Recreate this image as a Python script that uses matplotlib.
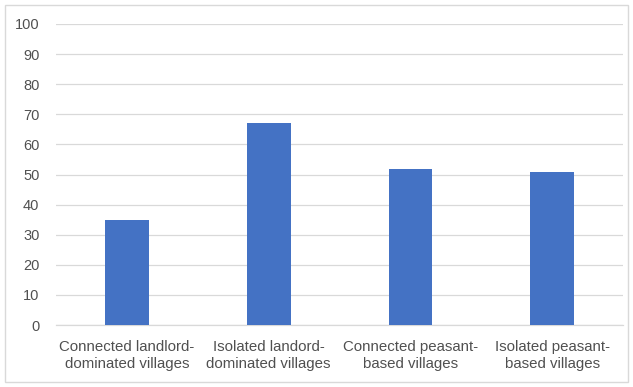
import matplotlib
matplotlib.use('Agg')
import matplotlib.pyplot as plt
import matplotlib.patches as patches

# data
categories = ['Connected landlord-\ndominated villages',
              'Isolated landord-\ndominated villages',
              'Connected peasant-\nbased villages',
              'Isolated peasant-\nbased villages']
values = [35, 67, 52, 51]
y_ticks = list(range(0, 101, 10))

plt.rcParams['font.family'] = ['Liberation Sans', 'DejaVu Sans']

fig = plt.figure(figsize=(6.33, 3.87), dpi=100, facecolor='white')
ax = fig.add_axes([0.0885, 0.160, 0.896, 0.778])

x = range(len(categories))
ax.bar(x, values, width=0.31, color='#4472C4', zorder=3)

ax.set_xlim(-0.5, len(categories) - 0.5)
ax.set_ylim(0, 100)
ax.set_yticks(y_ticks)
ax.set_xticks(list(x))
ax.set_xticklabels(categories, fontsize=10.8, color='#505050', linespacing=1.25)
ax.tick_params(axis='y', labelsize=10.5, labelcolor='#505050', length=0, pad=12)
ax.tick_params(axis='x', length=0, pad=11)

ax.grid(axis='y', color='#D9D9D9', lw=0.9, zorder=0)
for s in ['top', 'right', 'left']:
    ax.spines[s].set_visible(False)
ax.spines['bottom'].set_color('#D9D9D9')
ax.spines['bottom'].set_linewidth(0.9)

# light frame round the chart
fig.patches.append(patches.Rectangle((5 / 633, 5 / 387), 623 / 633, 377 / 387,
                                     transform=fig.transFigure, fill=False,
                                     edgecolor='#D9D9D9', lw=1.0))

fig.savefig('out.png', dpi=100, facecolor='white')
